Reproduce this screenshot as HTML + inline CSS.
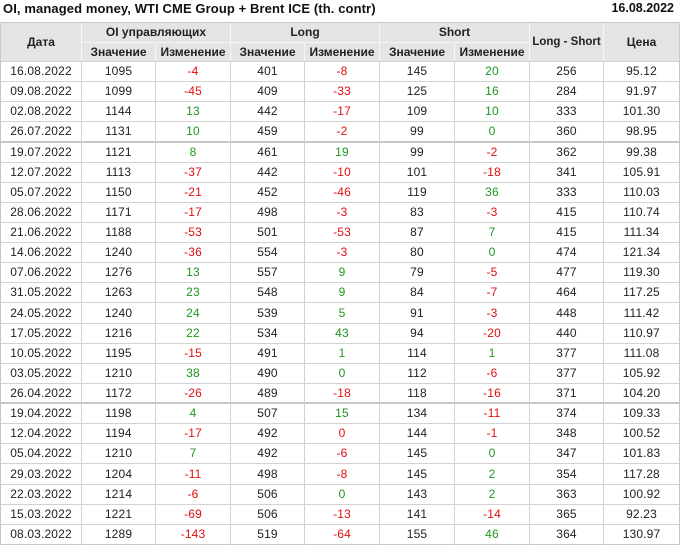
<!DOCTYPE html>
<html><head><meta charset="utf-8">
<style>
*{margin:0;padding:0;box-sizing:border-box}
html,body{width:680px;height:548px;background:#fff;overflow:hidden}
body{position:relative;font-family:"Liberation Sans",Arial,sans-serif;color:#222}
.a{position:absolute}
.h{position:absolute;left:0;width:680px;height:1px;background:#d2d2d2}
.v{position:absolute;top:61px;width:1px;height:484px;background:#d2d2d2}
.hv{position:absolute;width:1px;background:#f6f6f6}
.t{position:absolute;font-weight:bold;font-size:12px;text-align:center;color:#222}
.r{position:absolute;left:0;width:680px;font-size:12px;letter-spacing:0.15px}
.r span{position:absolute;top:0;text-align:center;white-space:nowrap}
.r span:nth-child(1){left:1px;width:80px}
.r span:nth-child(2){left:82px;width:73px}
.r span:nth-child(3){left:156px;width:74px}
.r span:nth-child(4){left:231px;width:73px}
.r span:nth-child(5){left:305px;width:74px}
.r span:nth-child(6){left:380px;width:74px}
.r span:nth-child(7){left:455px;width:74px}
.r span:nth-child(8){left:530px;width:73px}
.r span:nth-child(9){left:604px;width:75px}
.n{color:#e01010}
.p{color:#1e961e}
</style></head><body>
<div class="a" style="left:3px;top:0;height:17px;line-height:17px;font-size:13px;font-weight:bold;letter-spacing:0.1px;white-space:nowrap;color:#111">OI, managed money, WTI CME Group + Brent ICE (th. contr)</div>
<div class="a" style="right:6px;top:0;height:17px;line-height:17px;font-size:12.5px;font-weight:bold;white-space:nowrap;color:#111">16.08.2022</div>

<div class="a" style="left:1px;top:23px;width:678px;height:38px;background:#e4e4e4"></div>
<div class="h" style="top:22px;background:#c8c8c8"></div>
<div class="a" style="left:81px;top:42px;width:448px;height:1px;background:#f6f6f6"></div>
<div class="hv" style="left:81px;top:23px;height:38px"></div>
<div class="hv" style="left:230px;top:23px;height:38px"></div>
<div class="hv" style="left:379px;top:23px;height:38px"></div>
<div class="hv" style="left:529px;top:23px;height:38px"></div>
<div class="hv" style="left:603px;top:23px;height:38px"></div>
<div class="hv" style="left:155px;top:43px;height:18px"></div>
<div class="hv" style="left:304px;top:43px;height:18px"></div>
<div class="hv" style="left:454px;top:43px;height:18px"></div>

<div class="t" style="left:1px;top:23px;width:80px;height:38px;line-height:38px">Дата</div>
<div class="t" style="left:82px;top:22px;width:148px;height:20px;line-height:20px">OI управляющих</div>
<div class="t" style="left:231px;top:22px;width:148px;height:20px;line-height:20px">Long</div>
<div class="t" style="left:380px;top:22px;width:149px;height:20px;line-height:20px">Short</div>
<div class="t" style="left:530px;top:23px;width:73px;height:38px;line-height:38px;font-size:11.5px;white-space:nowrap">Long - Short</div>
<div class="t" style="left:604px;top:23px;width:75px;height:38px;line-height:38px">Цена</div>
<div class="t" style="left:82px;top:43px;width:73px;height:18px;line-height:18px">Значение</div>
<div class="t" style="left:156px;top:43px;width:74px;height:18px;line-height:18px">Изменение</div>
<div class="t" style="left:231px;top:43px;width:73px;height:18px;line-height:18px">Значение</div>
<div class="t" style="left:305px;top:43px;width:74px;height:18px;line-height:18px">Изменение</div>
<div class="t" style="left:380px;top:43px;width:74px;height:18px;line-height:18px">Значение</div>
<div class="t" style="left:455px;top:43px;width:74px;height:18px;line-height:18px">Изменение</div>

<div class="h" style="top:61px"></div>
<div class="h" style="top:81px"></div>
<div class="h" style="top:101px"></div>
<div class="h" style="top:121px"></div>
<div class="h" style="top:141px;height:2px;background:#c8c8c8"></div>
<div class="h" style="top:162px"></div>
<div class="h" style="top:182px"></div>
<div class="h" style="top:202px"></div>
<div class="h" style="top:222px"></div>
<div class="h" style="top:242px"></div>
<div class="h" style="top:262px"></div>
<div class="h" style="top:282px"></div>
<div class="h" style="top:302px"></div>
<div class="h" style="top:323px"></div>
<div class="h" style="top:343px"></div>
<div class="h" style="top:363px"></div>
<div class="h" style="top:383px"></div>
<div class="h" style="top:402px;height:2px;background:#c8c8c8"></div>
<div class="h" style="top:423px"></div>
<div class="h" style="top:443px"></div>
<div class="h" style="top:463px"></div>
<div class="h" style="top:484px"></div>
<div class="h" style="top:504px"></div>
<div class="h" style="top:524px"></div>
<div class="h" style="top:544px;background:#c8c8c8"></div>

<div class="a" style="left:0;top:22px;width:1px;height:523px;background:#c8c8c8"></div>
<div class="a" style="left:679px;top:22px;width:1px;height:523px;background:#c8c8c8"></div>
<div class="v" style="left:81px"></div>
<div class="v" style="left:155px"></div>
<div class="v" style="left:230px"></div>
<div class="v" style="left:304px"></div>
<div class="v" style="left:379px"></div>
<div class="v" style="left:454px"></div>
<div class="v" style="left:529px"></div>
<div class="v" style="left:603px"></div>

<div class="r" style="top:62px;height:19px;line-height:19px"><span>16.08.2022</span><span>1095</span><span class="n">-4</span><span>401</span><span class="n">-8</span><span>145</span><span class="p">20</span><span>256</span><span>95.12</span></div>
<div class="r" style="top:82px;height:19px;line-height:19px"><span>09.08.2022</span><span>1099</span><span class="n">-45</span><span>409</span><span class="n">-33</span><span>125</span><span class="p">16</span><span>284</span><span>91.97</span></div>
<div class="r" style="top:102px;height:19px;line-height:19px"><span>02.08.2022</span><span>1144</span><span class="p">13</span><span>442</span><span class="n">-17</span><span>109</span><span class="p">10</span><span>333</span><span>101.30</span></div>
<div class="r" style="top:122px;height:19px;line-height:19px"><span>26.07.2022</span><span>1131</span><span class="p">10</span><span>459</span><span class="n">-2</span><span>99</span><span class="p">0</span><span>360</span><span>98.95</span></div>
<div class="r" style="top:143px;height:19px;line-height:19px"><span>19.07.2022</span><span>1121</span><span class="p">8</span><span>461</span><span class="p">19</span><span>99</span><span class="n">-2</span><span>362</span><span>99.38</span></div>
<div class="r" style="top:163px;height:19px;line-height:19px"><span>12.07.2022</span><span>1113</span><span class="n">-37</span><span>442</span><span class="n">-10</span><span>101</span><span class="n">-18</span><span>341</span><span>105.91</span></div>
<div class="r" style="top:183px;height:19px;line-height:19px"><span>05.07.2022</span><span>1150</span><span class="n">-21</span><span>452</span><span class="n">-46</span><span>119</span><span class="p">36</span><span>333</span><span>110.03</span></div>
<div class="r" style="top:203px;height:19px;line-height:19px"><span>28.06.2022</span><span>1171</span><span class="n">-17</span><span>498</span><span class="n">-3</span><span>83</span><span class="n">-3</span><span>415</span><span>110.74</span></div>
<div class="r" style="top:223px;height:19px;line-height:19px"><span>21.06.2022</span><span>1188</span><span class="n">-53</span><span>501</span><span class="n">-53</span><span>87</span><span class="p">7</span><span>415</span><span>111.34</span></div>
<div class="r" style="top:243px;height:19px;line-height:19px"><span>14.06.2022</span><span>1240</span><span class="n">-36</span><span>554</span><span class="n">-3</span><span>80</span><span class="p">0</span><span>474</span><span>121.34</span></div>
<div class="r" style="top:263px;height:19px;line-height:19px"><span>07.06.2022</span><span>1276</span><span class="p">13</span><span>557</span><span class="p">9</span><span>79</span><span class="n">-5</span><span>477</span><span>119.30</span></div>
<div class="r" style="top:283px;height:19px;line-height:19px"><span>31.05.2022</span><span>1263</span><span class="p">23</span><span>548</span><span class="p">9</span><span>84</span><span class="n">-7</span><span>464</span><span>117.25</span></div>
<div class="r" style="top:303px;height:20px;line-height:20px"><span>24.05.2022</span><span>1240</span><span class="p">24</span><span>539</span><span class="p">5</span><span>91</span><span class="n">-3</span><span>448</span><span>111.42</span></div>
<div class="r" style="top:324px;height:19px;line-height:19px"><span>17.05.2022</span><span>1216</span><span class="p">22</span><span>534</span><span class="p">43</span><span>94</span><span class="n">-20</span><span>440</span><span>110.97</span></div>
<div class="r" style="top:344px;height:19px;line-height:19px"><span>10.05.2022</span><span>1195</span><span class="n">-15</span><span>491</span><span class="p">1</span><span>114</span><span class="p">1</span><span>377</span><span>111.08</span></div>
<div class="r" style="top:364px;height:19px;line-height:19px"><span>03.05.2022</span><span>1210</span><span class="p">38</span><span>490</span><span class="p">0</span><span>112</span><span class="n">-6</span><span>377</span><span>105.92</span></div>
<div class="r" style="top:384px;height:18px;line-height:18px"><span>26.04.2022</span><span>1172</span><span class="n">-26</span><span>489</span><span class="n">-18</span><span>118</span><span class="n">-16</span><span>371</span><span>104.20</span></div>
<div class="r" style="top:404px;height:19px;line-height:19px"><span>19.04.2022</span><span>1198</span><span class="p">4</span><span>507</span><span class="p">15</span><span>134</span><span class="n">-11</span><span>374</span><span>109.33</span></div>
<div class="r" style="top:424px;height:19px;line-height:19px"><span>12.04.2022</span><span>1194</span><span class="n">-17</span><span>492</span><span class="n">0</span><span>144</span><span class="n">-1</span><span>348</span><span>100.52</span></div>
<div class="r" style="top:444px;height:19px;line-height:19px"><span>05.04.2022</span><span>1210</span><span class="p">7</span><span>492</span><span class="n">-6</span><span>145</span><span class="p">0</span><span>347</span><span>101.83</span></div>
<div class="r" style="top:464px;height:20px;line-height:20px"><span>29.03.2022</span><span>1204</span><span class="n">-11</span><span>498</span><span class="n">-8</span><span>145</span><span class="p">2</span><span>354</span><span>117.28</span></div>
<div class="r" style="top:485px;height:19px;line-height:19px"><span>22.03.2022</span><span>1214</span><span class="n">-6</span><span>506</span><span class="p">0</span><span>143</span><span class="p">2</span><span>363</span><span>100.92</span></div>
<div class="r" style="top:505px;height:19px;line-height:19px"><span>15.03.2022</span><span>1221</span><span class="n">-69</span><span>506</span><span class="n">-13</span><span>141</span><span class="n">-14</span><span>365</span><span>92.23</span></div>
<div class="r" style="top:525px;height:19px;line-height:19px"><span>08.03.2022</span><span>1289</span><span class="n">-143</span><span>519</span><span class="n">-64</span><span>155</span><span class="p">46</span><span>364</span><span>130.97</span></div>
</body></html>
